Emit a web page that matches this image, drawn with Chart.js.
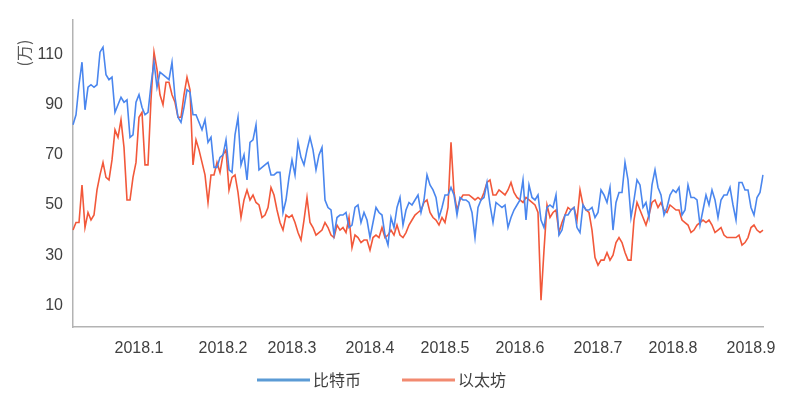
<!DOCTYPE html>
<html>
<head>
<meta charset="utf-8">
<script src="https://cdn.jsdelivr.net/npm/chart.js@4/dist/chart.umd.min.js"></script>
<style>
  html, body { margin: 0; padding: 0; background: #fff; }
  #wrap { width: 787px; height: 396px; }
</style>
</head>
<body>
<div id="wrap"><canvas id="chart" width="787" height="396"></canvas></div>
<script>
// month tick labels and the day index where each one sits
const monthTicks = ['2018.1', '2018.2', '2018.3', '2018.4', '2018.5', '2018.6', '2018.7', '2018.8', '2018.9'];
const monthIdx = [22, 50, 73, 99, 124, 149, 175, 200, 226];

const seriesNames = ['比特币', '以太坊'];

// 比特币 (万)
const btc = [
    82, 86, 98, 107, 88, 97, 98, 97, 98, 111, 113, 102, 100, 101, 87, 90, 93, 91, 92, 77,
    78, 91, 94, 89, 86, 87, 98, 107, 97, 103, 102, 101, 100, 107, 93, 85, 83, 89, 96, 95,
    86, 86, 83, 80, 84, 75, 77, 65, 65, 69, 70, 76, 64, 63, 78, 85, 66, 70, 60, 75,
    76, 82, 64, 65, 66, 67, 62, 62, 63, 63, 47, 52, 61, 68, 62, 75, 69, 66,
    72, 77, 72, 64, 70, 73, 52, 49, 48, 38, 45, 46, 46, 47, 41, 42, 49, 50, 43, 47,
    44, 37, 43, 49, 47, 46, 38, 34, 45, 41, 49, 53, 42, 48, 51, 50, 52, 54,
    47, 52, 62, 58, 56, 53, 45, 49, 54, 54, 57, 54, 46, 53, 52, 52, 51, 47, 37, 49,
    52, 53, 59, 50, 43, 51, 50, 49, 50, 41, 45, 48, 50, 52, 60, 44, 58, 53,
    52, 54, 44, 41, 49, 50, 49, 54, 38, 40, 46, 46, 48, 49, 41, 39, 50, 48, 48, 49,
    45, 47, 56, 54, 51, 57, 40, 51, 55, 55, 67, 60, 45, 52, 60, 58, 49, 51, 45,
    58, 64, 57, 54, 46, 49, 54, 56, 55, 57, 46, 48, 58, 53, 53, 52, 42, 48, 54, 50,
    56, 52, 45, 52, 54, 54, 57, 50, 44, 59, 59, 56, 56, 49, 46, 53, 55, 62
];

// 以太坊 (万)
const eth = [
    40, 43, 43, 58, 41, 47, 44, 46, 56, 62, 67, 61, 60, 68, 80, 77, 84, 73, 52, 52,
    61, 67, 85, 87, 66, 66, 92, 111, 104, 94, 90, 99, 99, 94, 91, 85, 85, 94, 101, 96,
    66, 76, 72, 67, 62, 51, 62, 62, 67, 63, 70, 72, 56, 61, 62, 55, 45, 52, 56, 52,
    54, 51, 50, 45, 46, 49, 57, 54, 48, 43, 40, 46, 45, 46, 43, 39, 36, 44,
    53, 43, 41, 38, 39, 40, 43, 41, 38, 37, 42, 40, 41, 39, 45, 33, 38, 37, 35, 36,
    36, 32, 37, 38, 37, 41, 37, 38, 40, 38, 42, 38, 37, 39, 42, 44, 46, 47,
    48, 51, 52, 47, 45, 44, 42, 45, 43, 49, 75, 55, 48, 52, 54, 54, 54, 53, 52, 53,
    52, 55, 59, 60, 54, 54, 56, 55, 54, 56, 59, 55, 53, 52, 51, 53, 52, 51,
    50, 47, 12, 32, 50, 45, 47, 48, 39, 43, 46, 49, 48, 49, 44, 56, 50, 48, 47, 40,
    29, 26, 28, 28, 31, 28, 30, 35, 37, 35, 31, 28, 28, 44, 51, 48, 45, 42, 46,
    51, 52, 49, 51, 48, 47, 50, 49, 48, 48, 44, 43, 42, 39, 40, 42, 43, 44, 43, 44,
    42, 39, 40, 41, 38, 37, 37, 37, 37, 38, 34, 35, 37, 41, 42, 40, 39, 40
];

const yTicks = [10, 30, 50, 70, 90, 110];

const labels = btc.map(() => '');
monthIdx.forEach((idx, k) => { labels[idx] = monthTicks[k]; });

const FONT = "'Liberation Sans', 'Noto Sans CJK SC', sans-serif";
const lineColors = ['#4a86ee', '#f2583a'];
const legendColors = ['#5b9bd5', '#f28a70'];

// "(万)" unit label at the top of the y axis
const unitLabel = {
    id: 'unitLabel',
    afterDraw(chart) {
        const ctx = chart.ctx;
        ctx.save();
        ctx.translate(24, 53);
        ctx.rotate(-Math.PI / 2);
        ctx.font = "16px 'Noto Sans CJK SC', sans-serif";
        ctx.fillStyle = '#595959';
        ctx.textAlign = 'center';
        ctx.textBaseline = 'middle';
        ctx.fillText('(万)', 0, 0);
        ctx.restore();
    }
};

// Excel-style legend under the axis: a short thick line, then the series name
const bottomLegend = {
    id: 'bottomLegend',
    afterDraw(chart) {
        const ctx = chart.ctx;
        const starts = [257, 402];
        ctx.save();
        ctx.font = "16px 'Noto Sans CJK SC', sans-serif";
        ctx.textBaseline = 'middle';
        chart.data.datasets.forEach((ds, i) => {
            const x = starts[i], y = 380;
            ctx.strokeStyle = legendColors[i];
            ctx.lineWidth = 3;
            ctx.beginPath();
            ctx.moveTo(x, y);
            ctx.lineTo(x + 53, y);
            ctx.stroke();
            ctx.fillStyle = '#404040';
            ctx.fillText(ds.label, x + 56, y);
        });
        ctx.restore();
    }
};

new Chart(document.getElementById('chart'), {
    type: 'line',
    data: {
        labels: labels,
        datasets: [
            { label: seriesNames[0], data: btc, borderColor: lineColors[0], backgroundColor: lineColors[0] },
            { label: seriesNames[1], data: eth, borderColor: lineColors[1], backgroundColor: lineColors[1] }
        ]
    },
    options: {
        responsive: false,
        animation: false,
        devicePixelRatio: 1,
        layout: { padding: { top: 14, right: 24, left: 0, bottom: 34 } },
        elements: {
            line: { borderWidth: 1.6, tension: 0 },
            point: { radius: 0 }
        },
        plugins: {
            tooltip: { enabled: false },
            legend: { display: false }
        },
        scales: {
            x: {
                type: 'category',
                grid: { display: false, drawTicks: false },
                border: { display: true, color: '#b3b3b3', width: 1.5 },
                ticks: {
                    autoSkip: false,
                    maxRotation: 0,
                    minRotation: 0,
                    padding: 12,
                    color: '#404040',
                    font: { family: FONT, size: 16 }
                },
                afterFit(scale) { scale.height = 35; }
            },
            y: {
                min: 1.3,
                max: 124,
                grid: { display: false, drawTicks: false },
                border: { display: true, color: '#b3b3b3', width: 1.5 },
                ticks: {
                    padding: 10,
                    color: '#404040',
                    font: { family: FONT, size: 16 }
                },
                afterBuildTicks(scale) {
                    scale.ticks = yTicks.map(v => ({ value: v }));
                },
                afterFit(scale) { scale.width = 73; }
            }
        }
    },
    plugins: [unitLabel, bottomLegend]
});
</script>
</body>
</html>
